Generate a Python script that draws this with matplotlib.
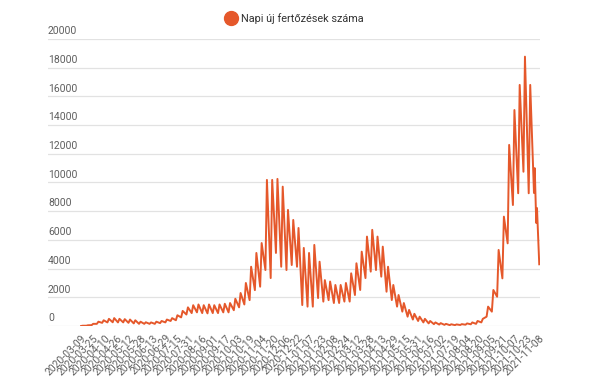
import numpy as np
import pandas as pd
import matplotlib
matplotlib.use("Agg")
import matplotlib.pyplot as plt
from matplotlib.lines import Line2D

plt.rcParams['font.family'] = ['Roboto', 'DejaVu Sans']

# Weekly readings starting Monday 2020-03-09: Monday low and Wednesday high
start_date = "2020-03-09"
monday_lows = [
    0, 20, 60, 150, 220, 250, 260, 250, 250, 220,
    180, 150, 150, 150, 150, 200, 250, 350, 400, 600,
    800, 900, 950, 900, 880, 900, 900, 950, 950, 1100,
    1300, 1500, 1800, 2500, 2740, 3900, 3340, 5090, 4130, 3900,
    4250, 4130, 1460, 1350, 1350, 1950, 1700, 1800, 1600, 1600,
    1700, 1700, 2160, 2510, 3340, 3790, 3900, 3440, 2390, 1810,
    1350, 1000, 650, 450, 350, 250, 180, 130, 100, 80,
    60, 60, 70, 90, 120, 150, 250, 650, 1000, 2040,
    3320, 5760, 8430, 9250, 10750, 9250,
]
wednesday_highs = [
    20, 50, 150, 300, 400, 500, 550, 500, 480, 450,
    400, 300, 260, 250, 300, 350, 450, 550, 750, 1050,
    1300, 1450, 1500, 1450, 1500, 1450, 1500, 1550, 1600, 1900,
    2300, 3000, 4130, 5090, 5780, 10180, 10180, 10250, 9710, 8090,
    7390, 6830, 5440, 5090, 5650, 4480, 3200, 3100, 2860, 2860,
    3000, 3670, 4370, 5180, 6230, 6700, 6230, 5530, 4130, 2860,
    2160, 1600, 1120, 850, 650, 500, 350, 250, 200, 150,
    120, 110, 130, 180, 250, 350, 500, 1350, 2510, 5300,
    7620, 12620, 15050, 16800, 18770, 16800,
]
# last days of the series
tail_dates = ["2021-11-01", "2021-11-02", "2021-11-04", "2021-11-05", "2021-11-08"]
tail_values = [9270, 11000, 7180, 8220, 4300]

tick_labels = [
    "2020-03-09", "2020-03-25", "2020-04-10", "2020-04-26", "2020-05-12",
    "2020-05-28", "2020-06-13", "2020-06-29", "2020-07-15", "2020-07-31",
    "2020-08-16", "2020-09-01", "2020-09-17", "2020-10-03", "2020-10-19",
    "2020-11-04", "2020-11-20", "2020-12-06", "2020-12-22", "2021-01-07",
    "2021-01-23", "2021-02-08", "2021-02-24", "2021-03-12", "2021-03-28",
    "2021-04-13", "2021-04-29", "2021-05-15", "2021-05-31", "2021-06-16",
    "2021-07-02", "2021-07-19", "2021-08-04", "2021-08-20", "2021-09-05",
    "2021-09-21", "2021-10-07", "2021-10-23", "2021-11-08",
]
y_ticks = list(range(0, 20001, 2000))
series_name = "Napi új fertőzések száma"
line_color = "#e5582b"

# build the zigzag series
mondays = pd.Timestamp(start_date) + pd.to_timedelta(7 * np.arange(len(monday_lows)), unit="D")
wednesdays = mondays + pd.Timedelta(days=2)
dates = []
values = []
for m, lo, w, hi in zip(mondays, monday_lows, wednesdays, wednesday_highs):
    dates += [m, w]
    values += [lo, hi]
dates += list(pd.to_datetime(tail_dates))
values += tail_values

fig = plt.figure(figsize=(5.97, 3.85), dpi=100)
ax = fig.add_axes([48 / 597, 59 / 385, (540 - 48) / 597, (326 - 39) / 385])

ax.plot(dates, values, color=line_color, lw=1.4)

ax.set_ylim(0, 20000)
ax.set_xlim(pd.Timestamp(start_date) - pd.Timedelta(days=44), pd.Timestamp(tail_dates[-1]) + pd.Timedelta(days=1))

for s in ax.spines.values():
    s.set_visible(False)

ax.set_yticks(y_ticks)
ax.yaxis.grid(True, color="#e2e2e2", lw=0.9)
ax.set_axisbelow(True)
ax.tick_params(axis="y", length=0, labelleft=False)
for v in y_ticks:
    ax.annotate(str(v), xy=(0, v), xycoords=("axes fraction", "data"),
                xytext=(0, 2), textcoords="offset points",
                ha="left", va="bottom", fontsize=7.5, color="#5f5f5f")

ax.set_xticks(pd.to_datetime(tick_labels))
ax.set_xticklabels(tick_labels, rotation=45, ha="right", va="top",
                   rotation_mode="anchor", fontsize=7.5, color="#5f5f5f")
ax.tick_params(axis="x", length=0, pad=5)

# legend on top
handle = Line2D([], [], marker="o", linestyle="", color=line_color, markersize=10)
fig.legend(handles=[handle], labels=[series_name], loc="center",
           bbox_to_anchor=(0.4925, 0.953), frameon=False, handletextpad=0.3,
           fontsize=7.8, labelcolor="#333333", handlelength=1.2)

fig.savefig("out.png", dpi=100)
